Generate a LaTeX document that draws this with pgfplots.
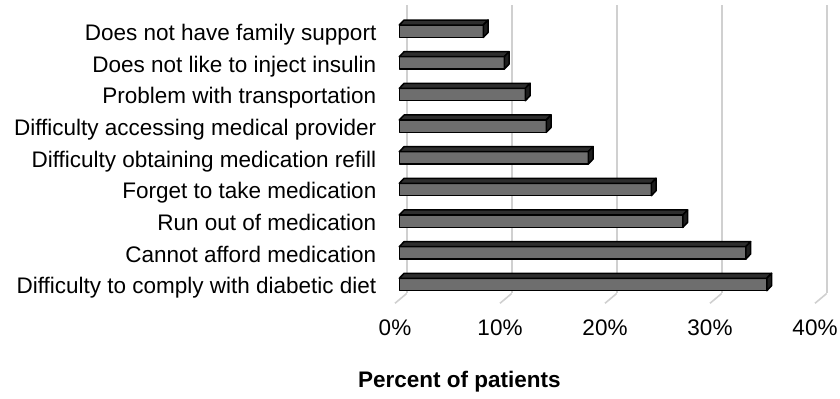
\documentclass[border=0pt]{standalone}
\usepackage{pgfplots}
\pgfplotsset{compat=1.18}
\usepackage{pgfplotstable}
\usepackage{fontspec}
\setmainfont{Liberation Sans}

\definecolor{facegray}{HTML}{6E6E6E}
\definecolor{topgray}{HTML}{2E2E2E}
\definecolor{sidegray}{HTML}{1E1E1E}
\definecolor{gridgray}{HTML}{D0D0D0}

% Share of patients citing each barrier (percent)
\pgfplotstableread[col sep=comma]{
idx,v,label
0,35,Difficulty to comply with diabetic diet
1,33,Cannot afford medication
2,27,Run out of medication
3,24,Forget to take medication
4,18,Difficulty obtaining medication refill
5,14,Difficulty accessing medical provider
6,12,Problem with transportation
7,10,Does not like to inject insulin
8,8,Does not have family support
}\barriers

% top and end faces of a bar, drawn at the bar's end point;
% \val is the bar's value, 5.25pt per percent
\pgfdeclareplotmark{slab}{%
  \pgfmathsetmacro\barlen{\val*5.25}%
  \pgfsetlinewidth{0.75pt}%
  \pgfsetroundjoin
  \pgfsetstrokecolor{black}%
  \pgfsetfillcolor{topgray}%
  \pgfpathmoveto{\pgfpoint{-\barlen pt}{3.1pt}}%
  \pgfpathlineto{\pgfpoint{0pt}{3.1pt}}%
  \pgfpathlineto{\pgfpoint{2.4pt}{5.6pt}}%
  \pgfpathlineto{\pgfpoint{-\barlen pt + 2.4pt}{5.6pt}}%
  \pgfpathclose
  \pgfusepath{fill,stroke}%
  \pgfsetfillcolor{sidegray}%
  \pgfpathmoveto{\pgfpoint{0pt}{-3.1pt}}%
  \pgfpathlineto{\pgfpoint{2.4pt}{-0.6pt}}%
  \pgfpathlineto{\pgfpoint{2.4pt}{5.6pt}}%
  \pgfpathlineto{\pgfpoint{0pt}{3.1pt}}%
  \pgfpathclose
  \pgfusepath{fill,stroke}%
}

\begin{document}
\begin{tikzpicture}
\begin{axis}[
  x=5.25pt, y=15.83pt,
  xmin=0, xmax=40, ymin=-0.48, ymax=8.63,
  enlargelimits=false, clip=false,
  axis line style={draw=none},
  major tick length=0pt,
  xtick={0,10,20,30,40},
  xticklabels={0\%,10\%,20\%,30\%,40\%},
  ytick={0,...,8},
  yticklabels from table={\barriers}{label},
  tick label style={font=\fontsize{11.25}{13}\selectfont, inner sep=0pt},
  xticklabel style={anchor=base, xshift=-2.15pt, yshift=-18.15pt},
  yticklabel style={anchor=base east, xshift=-11.3pt, yshift=-4.65pt},
  xlabel={Percent of patients},
  xlabel style={at={(axis description cs:0.14325,0)}, anchor=base,
    yshift=-43.9pt, inner sep=0pt,
    font=\bfseries\fontsize{11.25}{13}\selectfont},
]
% back wall grid and floor lines
\pgfplotsinvokeforeach{0,10,20,30,40}{
  \draw[gridgray, line width=0.8pt]
    ([shift={(3.7pt,3.1pt)}]axis cs:#1,-0.48) --
    ([shift={(3.7pt,3.1pt)}]axis cs:#1,8.63);
  \draw[gridgray, line width=0.8pt]
    ([shift={(-2.15pt,-1.8pt)}]axis cs:#1,-0.48) --
    ([shift={(3.7pt,3.1pt)}]axis cs:#1,-0.48);
}
% front faces
\addplot[xbar, bar width=6.2pt, fill=facegray, draw=black,
  line width=0.75pt, line join=round]
  table[x=v, y=idx] {\barriers};
% top and end faces
\addplot[scatter, only marks, mark=slab,
  scatter/@pre marker code/.code={\pgfscope},
  scatter/@post marker code/.code={\endpgfscope},
  visualization depends on={\thisrow{v}\as\val}]
  table[x=v, y=idx] {\barriers};
\coordinate (bbsw) at (axis cs:-38.03,-3.617);
\coordinate (bbne) at (axis cs:41.97,8.986);
\end{axis}
\pgfresetboundingbox
\useasboundingbox (bbsw) rectangle (bbne);
\end{tikzpicture}
\end{document}
